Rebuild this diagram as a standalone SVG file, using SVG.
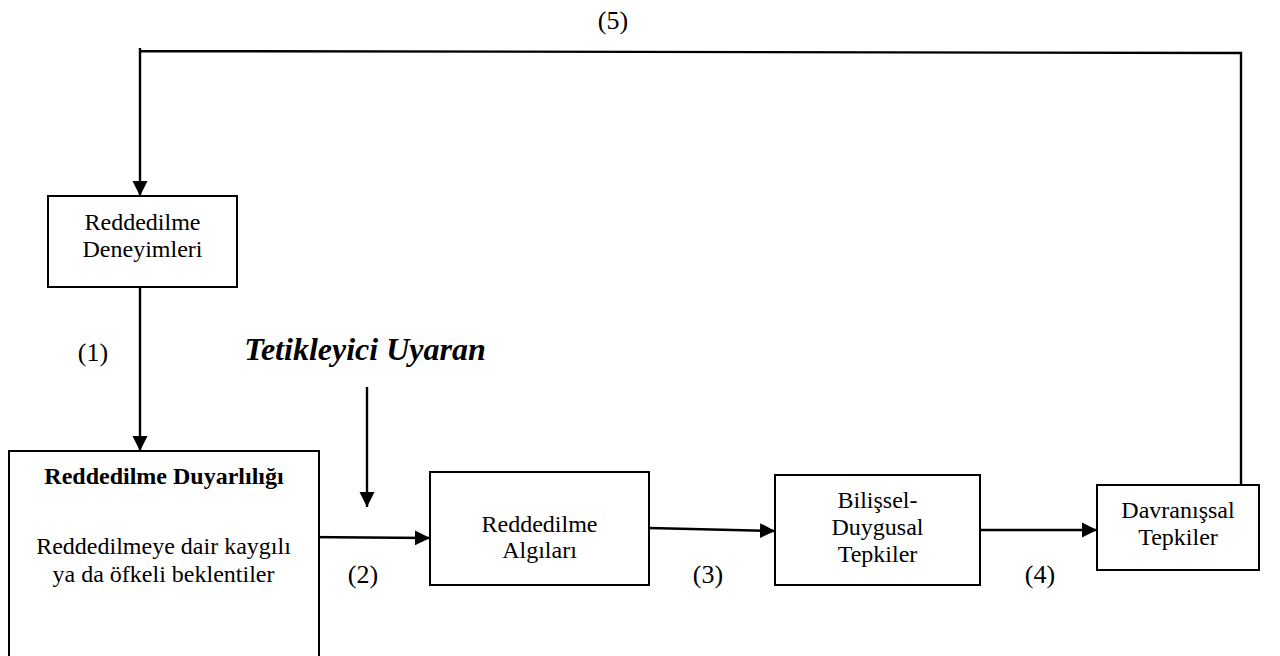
<svg xmlns="http://www.w3.org/2000/svg" width="1280" height="656" viewBox="0 0 1280 656">
<style>
.box{fill:#fff;stroke:#000;stroke-width:2}
.t{font-family:"Liberation Serif","Times New Roman",serif;font-size:24px;fill:#000;text-anchor:middle}
.b{font-weight:bold}
.lbl{font-family:"Liberation Serif","Times New Roman",serif;font-size:26px;fill:#000;text-anchor:middle}
.big{font-family:"Liberation Serif","Times New Roman",serif;font-size:32px;font-weight:bold;font-style:italic;fill:#000;text-anchor:middle}
.c{fill:none;stroke:#000;stroke-width:2.4}
</style>
<defs>
<marker id="ah" markerUnits="userSpaceOnUse" markerWidth="16" markerHeight="16" refX="15" refY="8" orient="auto">
<path d="M0,0.5 L15,8 L0,15.5 z" fill="#000"/>
</marker>
</defs>
<rect width="1280" height="656" fill="#fff"/>
<g id="connectors">
<path class="c" d="M1241,486 L1241,53 L140,51 L140,48 M140,51 L140,196" marker-end="url(#ah)"/>
<line class="c" x1="140" y1="287" x2="140" y2="451" marker-end="url(#ah)"/>
<line class="c" x1="367" y1="387" x2="367" y2="507" marker-end="url(#ah)"/>
<line class="c" x1="303" y1="537" x2="430" y2="538" marker-end="url(#ah)"/>
<line class="c" x1="649" y1="528" x2="775" y2="531" marker-end="url(#ah)"/>
<line class="c" x1="980" y1="530" x2="1097" y2="530" marker-end="url(#ah)"/>
</g>
<g id="labels">
<text class="lbl" x="613" y="29">(5)</text>
<text class="lbl" x="93" y="361">(1)</text>
<text class="lbl" x="363" y="583">(2)</text>
<text class="lbl" x="708" y="583">(3)</text>
<text class="lbl" x="1040" y="583">(4)</text>
<text class="big" x="365" y="360">Tetikleyici Uyaran</text>
</g>
<g id="deneyimleri">
<rect class="box" x="48" y="196" width="189" height="91"/>
<text class="t" x="142.5" y="230">Reddedilme</text>
<text class="t" x="142.5" y="257">Deneyimleri</text>
</g>
<g id="duyarlilik">
<rect class="box" x="9" y="451" width="310" height="230"/>
<text class="t b" x="164" y="484">Reddedilme Duyarlılığı</text>
<text class="t" x="163.5" y="554">Reddedilmeye dair kaygılı</text>
<text class="t" x="163.5" y="582">ya da öfkeli beklentiler</text>
</g>
<g id="algilar">
<rect class="box" x="430" y="472" width="219" height="113"/>
<text class="t" x="539.5" y="532">Reddedilme</text>
<text class="t" x="539.5" y="558">Algıları</text>
</g>
<g id="bilissel">
<rect class="box" x="775" y="475" width="205" height="110"/>
<text class="t" x="877.5" y="508">Bilişsel-</text>
<text class="t" x="877.5" y="535">Duygusal</text>
<text class="t" x="877.5" y="562">Tepkiler</text>
</g>
<g id="davranissal">
<rect class="box" x="1097" y="485" width="162" height="85"/>
<text class="t" x="1178" y="518">Davranışsal</text>
<text class="t" x="1178" y="545">Tepkiler</text>
</g>
</svg>
